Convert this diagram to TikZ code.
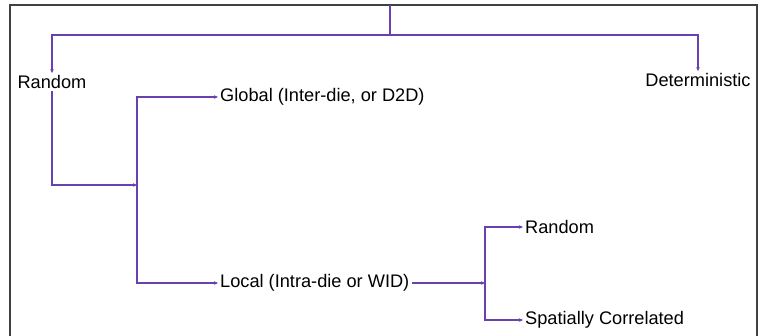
\documentclass[tikz,border=0pt]{standalone}
\usepackage{fontspec}
\setmainfont{Liberation Sans}
\usetikzlibrary{arrows.meta}

\definecolor{linkpurple}{RGB}{104,64,176}
\tikzset{
  branch/.style={draw=linkpurple, line width=1.6pt},
  tip/.style={branch, -{Stealth[length=4pt, width=3.5pt]}},
  item/.style={inner sep=2pt, font=\fontsize{18.2}{21}\selectfont},
}

\begin{document}
\begin{tikzpicture}[x=1pt, y=-1pt]
      \useasboundingbox (0,0) rectangle (760,335);
      \draw[black!75, line width=1.2pt] (10,345) -- (10,5) -- (757,5) -- (757,345);

      \node[item] (rand) at (52,82) {Random};
      \node[item] (det) at (698,80) {Deterministic};
      \node[item, anchor=west] (glob) at (218,97) {Global (Inter-die, or D2D)};
      \node[item, anchor=west] (loc) at (218,283) {Local (Intra-die or WID)};
      \node[item, anchor=west] (rnd) at (523,227) {Random};
      \node[item, anchor=west] (spat) at (523,320) {Spatially Correlated};

      \coordinate (top) at (390,5);
      \coordinate (split) at (390,35);
      \coordinate (join) at (137,185);
      \coordinate (fork) at (485,283);

      \draw[branch] (top) -- (split);
      \draw[tip] (split) -| (rand.north);
      \draw[tip] (split) -| (det.north);
      \draw[tip] (rand.south) |- (join);
      \draw[tip] (join) |- (glob.west);
      \draw[tip] (join) |- (loc.west);
      \draw[tip] (loc.east) -- (fork);
      \draw[tip] (fork) |- (rnd.west);
      \draw[tip] (fork) |- (spat.west);
    \end{tikzpicture}
\end{document}
